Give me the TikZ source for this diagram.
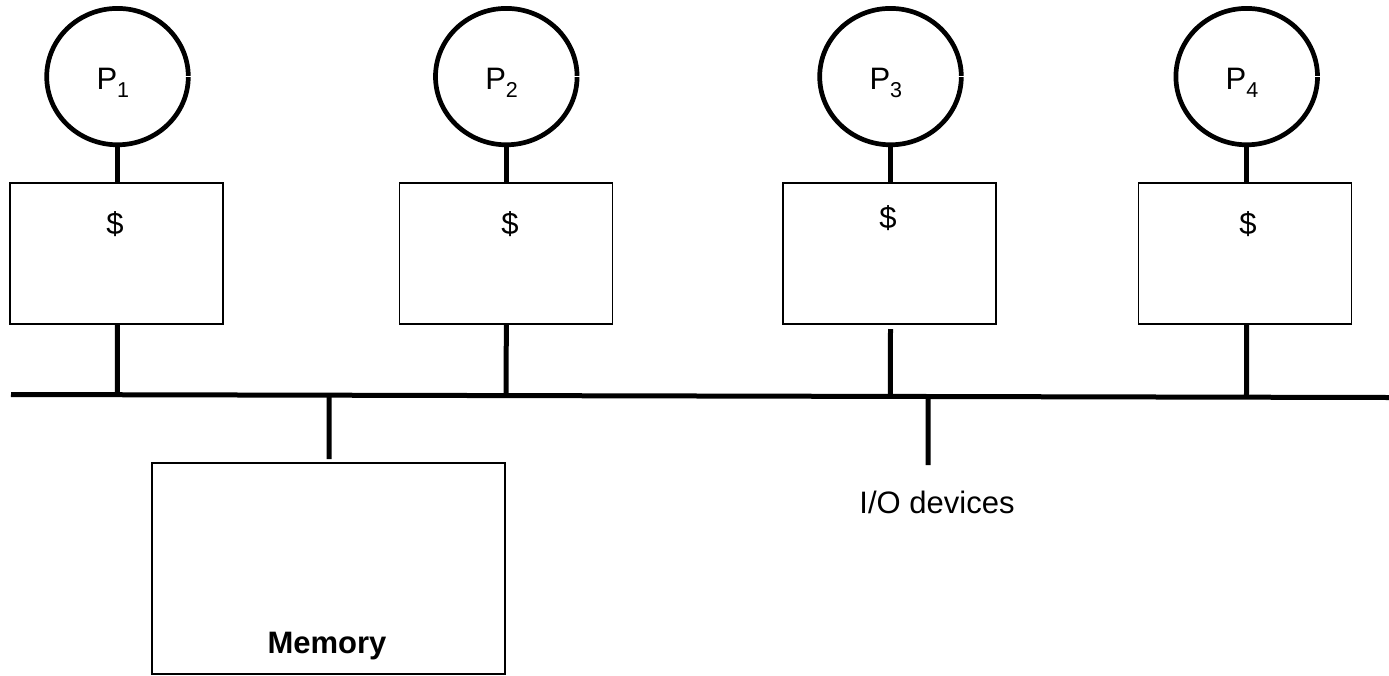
\documentclass[tikz,border=0pt]{standalone}
\usepackage{fontspec}
\setmainfont{Liberation Sans}
\usetikzlibrary{shapes.geometric,calc}

\tikzset{
  proc/.style={ellipse, draw, line width=4.7pt, outer sep=0pt, inner sep=0pt,
               minimum width=141.6pt, minimum height=136.4pt},
  cachebox/.style={rectangle, draw, line width=1.2pt, inner sep=0pt, outer sep=0pt,
                   minimum width=213pt, minimum height=141pt},
  membox/.style={rectangle, draw, line width=1.2pt, inner sep=0pt, outer sep=0pt,
                 minimum width=353pt, minimum height=211pt},
  lbl/.style={inner sep=0pt, outer sep=0pt, font=\fontsize{31}{37}\selectfont},
  conn/.style={line width=5pt},
  busline/.style={line width=5pt},
  notch/.style={white, line width=0.9pt}
}
\newcommand{\procname}[1]{P\raisebox{-8pt}{\fontsize{21.5}{24}\selectfont #1}}

\begin{document}
\begin{tikzpicture}[x=1pt, y=-1pt]
\useasboundingbox (0,0) rectangle (1389,675);

% shared bus
\coordinate (busL) at (11,394.5);
\coordinate (busR) at (1389,397.5);

% processors
\node[proc] (c1) at (117.5,76.6) {};
\node[proc] (c2) at (506.3,76.6) {};
\node[proc] (c3) at (890.5,76.6) {};
\node[proc] (c4) at (1246.7,76.6) {};
\foreach \i in {1,...,4}{
  \draw[notch] ([xshift=-3pt]c\i.east) -- ([xshift=3pt]c\i.east);
}
\node[lbl, anchor=base west] (p1) at (96.5,89) {\procname{1}};
\node[lbl, anchor=base west] (p2) at (485.3,89) {\procname{2}};
\node[lbl, anchor=base west] (p3) at (869.5,89) {\procname{3}};
\node[lbl, anchor=base west] (p4) at (1225.7,89) {\procname{4}};

% caches
\node[cachebox] (b1) at (116.5,253.5) {};
\node[cachebox] (b2) at (506,253.5) {};
\node[cachebox] (b3) at (889.5,253.5) {};
\node[cachebox] (b4) at (1245,253.5) {};
\node[lbl, anchor=base] (d1) at (115,234) {\$};
\node[lbl, anchor=base] (d2) at (510,234) {\$};
\node[lbl, anchor=base] (d3) at (888,228) {\$};
\node[lbl, anchor=base] (d4) at (1248,234) {\$};

% memory and I/O
\node[membox] (mem) at (328.5,568.5) {};
\node[lbl, font=\fontsize{31}{37}\selectfont\bfseries, anchor=base] (memlbl) at (327,653) {Memory};
\coordinate (memtop) at (329,459);
\coordinate (iotop) at (928,465);
\node[lbl, anchor=base] (io) at (937,513) {I/O devices};

% processor to cache links
\foreach \i in {1,...,4}{
  \draw[conn] (c\i.south) -- (c\i.south |- b\i.north);
}
% cache to bus links
\draw[conn] (c1.south |- b1.south) -- ($(busL)!(c1.south |- b1.south)!(busR)$);
\draw[conn] (c2.south |- b2.south) -- ($(busL)!(c2.south |- b2.south)!(busR)$);
\draw[conn] ([yshift=-5pt]c3.south |- b3.south) -- ($(busL)!(c3.south |- b3.south)!(busR)$);
\draw[conn] (c4.south |- b4.south) -- ($(busL)!(c4.south |- b4.south)!(busR)$);

% bus drops to memory and I/O
\draw[conn] ($(busL)!(memtop)!(busR)$) -- (memtop);
\draw[conn] ($(busL)!(iotop)!(busR)$) -- (iotop);

\draw[busline] (busL) -- (busR);
\end{tikzpicture}
\end{document}
